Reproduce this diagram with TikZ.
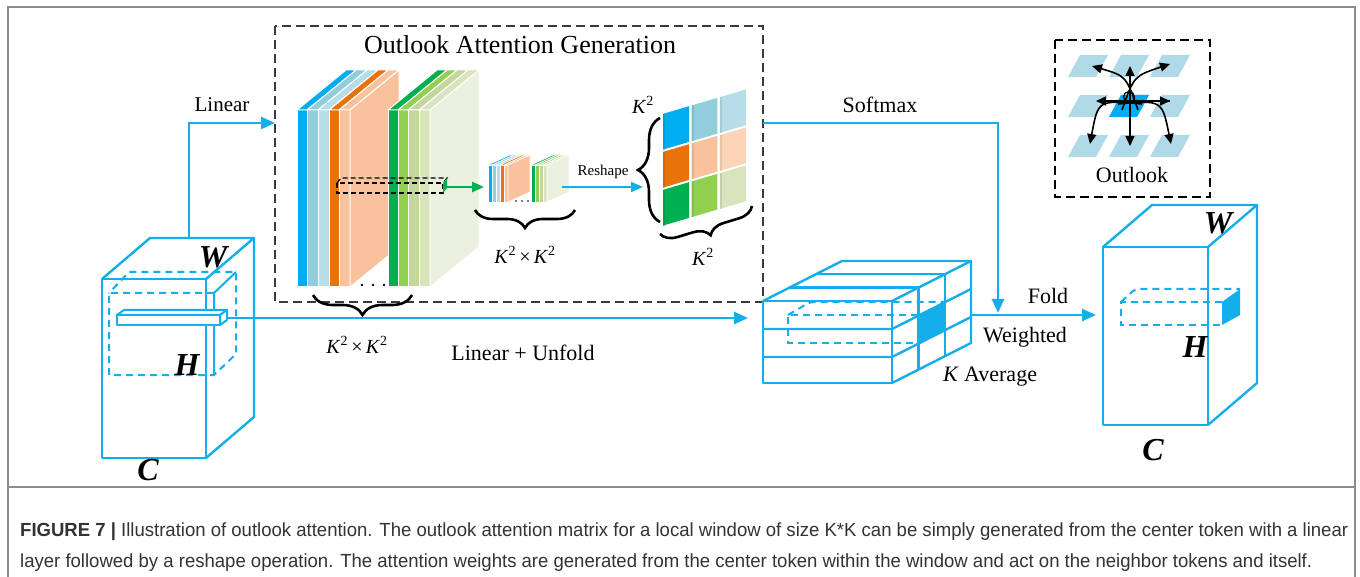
\documentclass[tikz,border=0pt]{standalone}
\usepackage{fontspec}
\setmainfont{Liberation Serif}
\newfontfamily\capfont{Liberation Sans}
\usetikzlibrary{arrows.meta,decorations.pathreplacing,calc}

\definecolor{cyanline}{HTML}{14AEEA}
\definecolor{frameGray}{HTML}{8C8C8C}
\definecolor{dashGray}{HTML}{3A3A3A}
\definecolor{cBlue}{HTML}{00AEEF}
\definecolor{cLbA}{HTML}{92CDDC}
\definecolor{cLbB}{HTML}{B7DEE8}
\definecolor{cOrange}{HTML}{E8720C}
\definecolor{cPeach}{HTML}{F9C29C}
\definecolor{cPeachL}{HTML}{FCD5B8}
\definecolor{cGreen}{HTML}{00B050}
\definecolor{cLgreen}{HTML}{92D050}
\definecolor{cSage}{HTML}{C3D69B}
\definecolor{cPale}{HTML}{D7E4BD}
\definecolor{cPaler}{HTML}{EBF1DE}
\definecolor{cKey}{HTML}{B0DAE8}
\definecolor{capText}{HTML}{333333}

\tikzset{
  flow/.style={draw=cyanline, line width=2.6pt},
  flowarrow/.style={flow, -{Triangle[length=14pt,width=12pt]}},
  cubeline/.style={draw=cyanline, line width=2.4pt, line join=round},
  cubedash/.style={draw=cyanline, line width=2pt, dash pattern=on 7pt off 5pt},
  groupbox/.style={draw=dashGray, line width=2pt, dash pattern=on 9pt off 5pt},
  keybox/.style={draw=black, line width=2.4pt, dash pattern=on 9pt off 5pt},
  lbl/.style={font=\fontsize{22}{24}\selectfont, inner sep=0pt},
  axislbl/.style={font=\fontsize{32}{34}\selectfont\bfseries\itshape, inner sep=0pt},
  curly/.style={decorate, decoration={brace, amplitude=#1}, draw=black, line width=2.6pt},
  curlym/.style={decorate, decoration={brace, mirror, amplitude=#1}, draw=black, line width=2.6pt},
  strip/.style={draw=white, line width=1pt},
  keyarrow/.style={draw=black, line width=1.6pt, -{Triangle[length=10pt,width=9pt]}},
}

\newcommand\ksq{\textit{K}\textsuperscript{2}}

\newsavebox\caplineA
\newsavebox\caplineB

\begin{document}
\sbox\caplineA{\capfont\fontsize{19}{21}\selectfont\color{capText}\textbf{FIGURE 7 |} Illustration of outlook attention. The outlook attention matrix for a local window of size K*K can be simply generated from the center token with a linear}
\sbox\caplineB{\capfont\fontsize{19}{21}\selectfont\color{capText}layer followed by a reshape operation. The attention weights are generated from the center token within the window and act on the neighbor tokens and itself.}
\pgfmathsetmacro\capratio{1328/\the\wd\caplineA}

\begin{tikzpicture}[x=1pt,y=-1pt]
\useasboundingbox (0,0) rectangle (1360,577);
\fill[white] (0,0) rectangle (1360,577);

% outer frame and caption rule
\draw[frameGray, line width=1.5pt] (8,7) rectangle (1355,600);
\draw[frameGray, line width=1.2pt] (8,487) -- (1355,487);

% ---------------- generation block ----------------
\draw[groupbox] (275,26) rectangle (763,302);
\node[lbl, font=\fontsize{26}{28}\selectfont] (gentitle) at (520,45) {Outlook Attention Generation};

% large layered stack, first group
\foreach \x/\w/\c in {297/10/cBlue,307/11/cLbA,318/11/cLbB,329/10/cOrange,339/11/cPeach}{
  \filldraw[fill=\c, strip] (\x,110) rectangle (\x+\w,287);
  \filldraw[fill=\c, strip] (\x,110) -- (\x+49,70) -- (\x+\w+49,70) -- (\x+\w,110) -- cycle;
}
\filldraw[fill=cPeach, strip] (350,110) -- (399,70) -- (399,247) -- (350,287) -- cycle;
% large layered stack, second group
\foreach \x/\w/\c in {388/10/cGreen,398/10/cLgreen,408/11/cSage,419/11/cPale}{
  \filldraw[fill=\c, strip] (\x,110) rectangle (\x+\w,287);
  \filldraw[fill=\c, strip] (\x,110) -- (\x+49,70) -- (\x+\w+49,70) -- (\x+\w,110) -- cycle;
}
\filldraw[fill=cPaler, strip] (430,110) -- (479,70) -- (479,247) -- (430,287) -- cycle;
\foreach \x in {362,373,384} \fill[black] (\x,285) circle (1.4);

% selected token row
\draw[black, line width=1.2pt, dash pattern=on 5pt off 3pt] (337,183) rectangle (443,193);
\draw[black, line width=1.2pt, dash pattern=on 5pt off 3pt] (337,183) -- (341,178) -- (447,178) -- (443,183);
\fill[cGreen] (443,183) -- (447,178) -- (447,188) -- (443,193) -- cycle;
\coordinate (rowOut) at (447,187);
\coordinate (miniIn) at (484,187);
\draw[draw=cGreen, line width=2.4pt, -{Triangle[length=12pt,width=10pt]}] (rowOut) -- (miniIn);

% small stack
\foreach \x/\w/\c in {488/4/cBlue,492/4/cLbA,496/4/cLbB,500/4/cOrange,504/4/cPeach}{
  \filldraw[fill=\c, draw=white, line width=0.6pt] (\x,165) rectangle (\x+\w,202);
  \filldraw[fill=\c, draw=white, line width=0.6pt] (\x,165) -- (\x+22,155) -- (\x+\w+22,155) -- (\x+\w,165) -- cycle;
}
\filldraw[fill=cPeach, draw=white, line width=0.6pt] (508,165) -- (530,155) -- (530,192) -- (508,202) -- cycle;
\foreach \x/\w/\c in {531/4/cGreen,535/4/cLgreen,539/4/cSage,543/4/cPale}{
  \filldraw[fill=\c, draw=white, line width=0.6pt] (\x,165) rectangle (\x+\w,202);
  \filldraw[fill=\c, draw=white, line width=0.6pt] (\x,165) -- (\x+22,155) -- (\x+\w+22,155) -- (\x+\w,165) -- cycle;
}
\filldraw[fill=cPaler, draw=white, line width=0.6pt] (547,165) -- (569,155) -- (569,192) -- (547,202) -- cycle;
\foreach \x in {516,522,528} \fill[black] (\x,201) circle (0.8);

% reshape step
\coordinate (miniOut) at (562,187);
\coordinate (gridIn) at (643,187);
\draw[draw=cyanline, line width=2pt, -{Triangle[length=12pt,width=10pt]}] (miniOut) -- (gridIn);
\node[inner sep=0pt, font=\fontsize{15}{17}\selectfont] (reshape) at (603,172) {Reshape};

% reshaped K^2 x K^2 matrix
\foreach \i/\j/\c in {0/0/cBlue,1/0/cLbA,2/0/cLbB,0/1/cOrange,1/1/cPeach,2/1/cPeachL,0/2/cGreen,1/2/cLgreen,2/2/cPale}{
  \pgfmathsetmacro\sa{\i/3+0.014}
  \pgfmathsetmacro\sb{(\i+1)/3-0.014}
  \pgfmathsetmacro\ta{\j/3+0.01}
  \pgfmathsetmacro\tb{(\j+1)/3-0.01}
  \fill[\c] ({662+85*\sa},{113-25*\sa+114*\ta}) -- ({662+85*\sb},{113-25*\sb+114*\ta})
    -- ({662+85*\sb},{113-25*\sb+114*\tb}) -- ({662+85*\sa},{113-25*\sa+114*\tb}) -- cycle;
  \fill[\c!75!black, opacity=0.35] ({662+85*\sa},{113-25*\sa+114*\ta}) -- ({664+85*\sa},{113-25*\sa+114*\ta})
    -- ({664+85*\sa},{113-25*\sa+114*\tb}) -- ({662+85*\sa},{113-25*\sa+114*\tb}) -- cycle;
}

% braces and sizes
\draw[curlym=20] (313,295) -- (412,295);
\node[inner sep=0pt, font=\fontsize{20}{22}\selectfont] (sizeA) at (357,345) {\ksq\,×\,\ksq};
\draw[curlym=18] (475,210) -- (575,210);
\node[inner sep=0pt, font=\fontsize{20}{22}\selectfont] (sizeB) at (525,255) {\ksq\,×\,\ksq};
\draw[curly=22] (660,222) -- (660,118);
\node[inner sep=0pt, font=\fontsize{20}{22}\selectfont] (sizeC) at (643,105) {\ksq};
\draw[curlym=16] (660,234) -- (752,206);
\node[inner sep=0pt, font=\fontsize{20}{22}\selectfont] (sizeD) at (703,257) {\ksq};

% ---------------- input tensor ----------------
\draw[cubeline] (102,279) rectangle (206,458);
\draw[cubeline] (102,279) -- (150,238) -- (254,238) -- (206,279);
\draw[cubeline] (254,238) -- (254,417) -- (206,458);
\draw[cubedash] (214,293) -- (109,293) -- (109,375) -- (214,375) -- (236,354) -- (236,272) -- (129,272) -- (109,293);
\draw[cubeline, line width=2pt] (214,375) -- (214,293) -- (236,272);
% token bar
\filldraw[fill=white, cubeline, line width=2pt] (117,315) rectangle (220,325);
\filldraw[fill=white, cubeline, line width=2pt] (117,315) -- (124,310) -- (227,310) -- (220,315) -- cycle;
\filldraw[fill=white, cubeline, line width=2pt] (220,315) -- (227,310) -- (227,320) -- (220,325) -- cycle;
\node[axislbl] (inW) at (213,257) {W};
\node[axislbl] (inH) at (187,365) {H};
\node[axislbl] (inC) at (148,470) {C};

% ---------------- unfolded value tensor ----------------
\draw[cubeline] (763,301) rectangle (892,383);
\draw[cubeline] (763,301) -- (842,261) -- (971,261) -- (892,301);
\draw[cubeline] (892,383) -- (971,343) -- (971,261);
\draw[cubeline] (763,329) -- (892,329) -- (971,289);
\draw[cubeline] (763,357) -- (892,357) -- (971,317);
\draw[cubeline] (789.3,287.7) -- (918.3,287.7) -- (918.3,369.7);
\draw[cubeline] (815.7,274.3) -- (944.7,274.3) -- (944.7,356.3);
\fill[cyanline] (918.3,315.7) -- (944.7,302.3) -- (944.7,330.3) -- (918.3,343.7) -- cycle;
\draw[cubedash] (918,315) -- (788,315) -- (788,343) -- (918,343);
\draw[cubedash, rounded corners=4pt] (788,315) -- (810,302) -- (944,302);

% ---------------- output tensor ----------------
\draw[cubeline] (1103,247) rectangle (1208,425);
\draw[cubeline] (1103,247) -- (1152,205) -- (1257,205) -- (1208,247);
\draw[cubeline] (1257,205) -- (1257,383) -- (1208,425);
\draw[cubedash] (1222,302) -- (1121,302) -- (1121,325) -- (1222,325);
\draw[cubedash, rounded corners=4pt] (1121,302) -- (1135,289) -- (1240,289);
\fill[cyanline] (1222,302) -- (1240,289) -- (1240,315) -- (1222,325) -- cycle;
\node[axislbl] (outW) at (1218,223) {W};
\node[axislbl] (outH) at (1195,347) {H};
\node[axislbl] (outC) at (1153,450) {C};

% ---------------- connectors ----------------
\coordinate (inTop) at (189,238);
\coordinate (genIn) at (275,123);
\coordinate (barEnd) at (227,318);
\coordinate (valIn) at (748,318);
\coordinate (genOut) at (763,123);
\coordinate (foldJoin) at (998,313);
\coordinate (valOut) at (971,315);
\coordinate (outIn) at (1096,315);
\draw[flowarrow] (inTop) |- (genIn);
\draw[flowarrow] (barEnd) -- (valIn);
\draw[flowarrow] (genOut) -| (foldJoin);
\draw[flowarrow] (valOut) -- (outIn);

\node[lbl, font=\fontsize{21}{23}\selectfont] (tLinear) at (222,105) {Linear};
\node[lbl] (tSoftmax) at (880,105) {Softmax};
\node[lbl] (tUnfold) at (523,353) {Linear + Unfold};
\node[lbl] (tFold) at (1048,296) {Fold};
\node[lbl] (tWeighted) at (1025,337) {Weighted};
\node[lbl] (tAverage) at (990,377) {\textit{K} Average};

% ---------------- outlook key ----------------
\draw[keybox] (1055,40) rectangle (1210,197);
\foreach \c in {0,1,2}{
  \foreach \r in {0,1,2}{
    \fill[cKey] (1080+41*\c,55+40*\r) -- (1108+41*\c,55+40*\r) -- (1096+41*\c,77+40*\r) -- (1068+41*\c,77+40*\r) -- cycle;
  }
}
\fill[cBlue] (1121,95) -- (1149,95) -- (1137,117) -- (1109,117) -- cycle;
\coordinate (oc) at (1130,103);
\draw[black, line width=1.2pt] (1129,97) circle (5.5);
\coordinate (kU) at (1130,66);
\coordinate (kD) at (1130,146);
\coordinate (kL) at (1096,101);
\coordinate (kR) at (1170,101);
\coordinate (kUL) at (1092,66);
\coordinate (kUR) at (1170,64);
\coordinate (kDL) at (1090,144);
\coordinate (kDR) at (1171,144);
\draw[keyarrow] (kD |- oc) -- (kU);
\draw[keyarrow] (oc) -- (kD);
\draw[keyarrow] (kR |- kL) -- (kL);
\draw[keyarrow] (kL) ++(30,0) -- (kR);
\draw[keyarrow] (1138,110) .. controls (1126,76) .. (kUL);
\draw[keyarrow] (1122,110) .. controls (1134,76) .. (kUR);
\draw[keyarrow] (1142,104) .. controls (1098,100) .. (kDL);
\draw[keyarrow] (1118,104) .. controls (1162,100) .. (kDR);
\node[lbl] (tOutlook) at (1132,175) {Outlook};

% ---------------- caption ----------------
\node[anchor=base west, inner sep=0pt] (capA) at (20,536) {\scalebox{\capratio}[1]{\usebox\caplineA}};
\node[anchor=base west, inner sep=0pt] (capB) at (20,567) {\scalebox{\capratio}[1]{\usebox\caplineB}};
\end{tikzpicture}
\end{document}
